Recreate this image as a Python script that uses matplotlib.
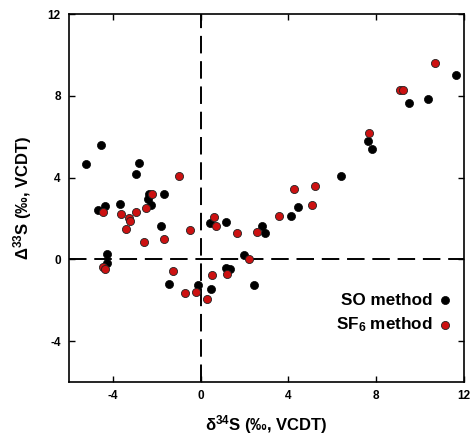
import matplotlib
matplotlib.use("Agg")
import matplotlib.pyplot as plt

plt.rcParams['font.family'] = ['Liberation Sans', 'DejaVu Sans']
plt.rcParams['font.weight'] = 'bold'
plt.rcParams['axes.unicode_minus'] = False
plt.rcParams['mathtext.fontset'] = 'custom'
plt.rcParams['mathtext.rm'] = 'Liberation Sans:bold'
plt.rcParams['mathtext.it'] = 'Liberation Sans:bold'
plt.rcParams['mathtext.bf'] = 'Liberation Sans:bold'

# SO method (black)
so_d34 = [-5.24, -4.53, -4.68, -4.38, -4.26, -4.26, -3.68, -2.82, -2.94, -2.35, -2.39,
          -2.26, -1.65, -1.80, -1.42, -0.14, 0.47, 0.41, 1.14, 1.14, 1.35, 1.97, 2.42,
          2.79, 2.95, 4.12, 4.42, 6.39, 7.64, 7.83, 9.51, 10.38, 11.65]
so_D33 = [4.66, 5.60, 2.40, 2.61, 0.25, -0.16, 2.70, 4.72, 4.17, 3.22, 2.97,
          2.68, 3.22, 1.65, -1.21, -1.23, -1.45, 1.78, 1.85, -0.41, -0.46, 0.23, -1.27,
          1.63, 1.29, 2.11, 2.57, 4.07, 5.80, 5.41, 7.63, 7.86, 9.04]

# SF6 method (red)
sf6_d34 = [-4.47, -4.44, -4.36, -3.65, -3.26, -3.20, -3.38, -2.94, -2.51, -2.23, -2.58,
           -1.65, -0.98, -0.50, -1.24, -0.70, -0.23, 0.27, 0.51, 0.61, 0.68, 1.20, 1.64,
           2.20, 2.55, 3.59, 4.24, 5.06, 5.21, 7.68, 9.08, 9.24, 10.67]
sf6_D33 = [2.30, -0.37, -0.49, 2.21, 2.04, 1.86, 1.47, 2.32, 2.51, 3.19, 0.85,
           1.02, 4.07, 1.42, -0.57, -1.62, -1.59, -1.96, -0.75, 2.07, 1.65, -0.70, 1.29,
           0.02, 1.32, 2.12, 3.46, 2.66, 3.61, 6.16, 8.27, 8.27, 9.59]

ticks = [-4, 0, 4, 8, 12]

fig = plt.figure(figsize=(4.71, 4.42), dpi=100)
ax = fig.add_axes([0.1465, 0.1357, 0.8385, 0.8323])

ax.axvline(0, color='black', lw=1.4, ls=(0, (9, 4)), zorder=1)
ax.axhline(0, color='black', lw=1.4, ls=(0, (9, 4)), zorder=1)

ax.scatter(so_d34, so_D33, s=34, color='black', edgecolors='black', linewidths=0.5,
           zorder=3, label='SO method')
ax.scatter(sf6_d34, sf6_D33, s=34, color='#cc1111', edgecolors='#222222', linewidths=0.6,
           zorder=3, label='SF$_6$ method')

ax.set_xlim(-6, 12)
ax.set_ylim(-6, 12)
ax.set_xticks(ticks)
ax.set_yticks(ticks)
ax.tick_params(direction='in', length=4, width=1, top=True, right=True,
               labelsize=8.5, pad=6)
for s in ax.spines.values():
    s.set_linewidth(1.2)

ax.set_xlabel('δ$^{34}$S (‰, VCDT)', fontsize=12, fontweight='bold', labelpad=8)
ax.set_ylabel('Δ$^{33}$S (‰, VCDT)', fontsize=12, fontweight='bold', labelpad=10)

ax.legend(loc='center right', bbox_to_anchor=(0.99, 0.186), frameon=False,
          markerfirst=False, handletextpad=0.2, labelspacing=0.45,
          borderaxespad=0, handlelength=1.0, prop={'weight': 'bold', 'size': 12.3})

fig.savefig('out.png', dpi=100)
